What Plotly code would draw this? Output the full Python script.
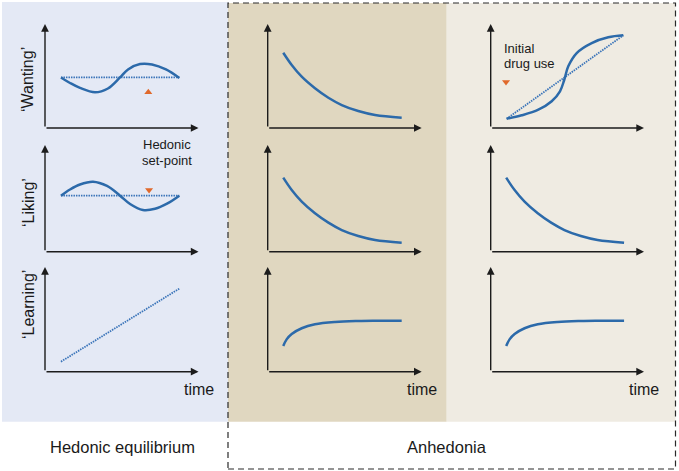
import plotly.graph_objects as go

W, H = 679, 471
FONT = "Liberation Sans, Arial, Helvetica, sans-serif"

# ---------------- text ----------------
row_labels = ["‘Wanting’", "‘Liking’", "‘Learning’"]
group_labels = ["Hedonic equilibrium", "Anhedonia"]
time_label = "time"
setpoint_lines = ["Hedonic", "set-point"]
drug_lines = ["Initial", "drug use"]

# ---------------- data (time 0-10, level 0-10) ----------------
want_t = [1.04, 1.63, 2.28, 3.26, 4.10, 4.89, 5.41, 6.19, 6.97, 7.88, 8.75]
want_v = [4.86, 4.33, 3.85, 3.43, 3.80, 4.86, 5.63, 6.15, 6.11, 5.63, 4.81]
want_base_t = [1.04, 8.75]
want_base_v = [4.86, 4.86]
want_mark_t = [6.73]
want_mark_v = [3.43]

like_t = [1.04, 1.63, 2.28, 3.13, 4.04, 4.89, 5.54, 6.38, 7.17, 7.95, 8.75]
like_v = [5.25, 5.83, 6.30, 6.56, 6.16, 5.25, 4.47, 3.91, 4.02, 4.50, 5.25]
like_base_t = [1.04, 8.75]
like_base_v = [5.25, 5.25]
like_mark_t = [6.78]
like_mark_v = [5.78]

learn_t = [1.04, 8.79]
learn_v = [0.96, 7.97]

decay_t = [1.01, 1.56, 2.21, 3.07, 3.94, 4.81, 5.88, 6.97, 8.70]
decay_want_v = [7.24, 6.06, 4.93, 3.82, 2.91, 2.21, 1.63, 1.25, 0.99]
decay_like_v = [6.94, 5.78, 4.69, 3.60, 2.72, 2.03, 1.47, 1.10, 0.84]

rise_t = [1.01, 1.23, 1.56, 2.21, 3.07, 4.37, 5.88, 6.97, 8.70]
rise_v = [2.45, 3.09, 3.60, 4.15, 4.53, 4.75, 4.84, 4.86, 4.86]

s_t = [1.04, 2.02, 3.11, 3.98, 4.52, 4.80, 5.06, 5.61, 6.59, 7.67, 8.65]
s_v = [0.89, 1.22, 1.76, 2.57, 3.53, 4.64, 5.93, 7.21, 8.17, 8.72, 8.91]
s_line_t = [1.04, 8.65]
s_line_v = [0.89, 8.91]
drug_mark_t = [1.0]
drug_mark_v = [4.42]

# ---------------- styles ----------------
BLUE = "#2c6aaa"
BLUE_DOT = "#3a74b9"
ORANGE = "#e0692b"
AXIS = "#1c1c1c"
BG_LEFT = "#e4e9f5"
BG_MID = "#e0d7c0"
BG_RIGHT = "#efebe2"

col_px = [(45, 198.5), (267.7, 421.7), (490.7, 644)]
row_px = [(24, 128), (145, 251.7), (267, 371.7)]


def px(x):
    return x / W


def py(y):
    return 1 - y / H


def ids(r, c):
    n = r * 3 + c + 1
    return ("x" if n == 1 else f"x{n}"), ("y" if n == 1 else f"y{n}")


fig = go.Figure()
layout_axes = {}
annotations = []
for r in range(3):
    for c in range(3):
        xa, ya = ids(r, c)
        xname = "xaxis" if xa == "x" else "xaxis" + xa[1:]
        yname = "yaxis" if ya == "y" else "yaxis" + ya[1:]
        layout_axes[xname] = dict(domain=[px(col_px[c][0]), px(col_px[c][1])],
                                  range=[0, 10], visible=False, fixedrange=True,
                                  anchor=ya)
        layout_axes[yname] = dict(domain=[py(row_px[r][1]), py(row_px[r][0])],
                                  range=[0, 10], visible=False, fixedrange=True,
                                  anchor=xa)
        # axis arrows
        for (hx, hy) in [(10, 0), (0, 10)]:
            annotations.append(dict(
                x=hx, y=hy, ax=0, ay=0, xref=xa, yref=ya, axref=xa, ayref=ya,
                text="", showarrow=True, arrowhead=2, arrowsize=1.1,
                arrowwidth=1.4, arrowcolor=AXIS, standoff=0, startstandoff=0))


def solid(t, v, r, c):
    xa, ya = ids(r, c)
    fig.add_trace(go.Scatter(x=t, y=v, xaxis=xa, yaxis=ya, mode="lines",
                             line=dict(color=BLUE, width=2.5, shape="spline"),
                             hoverinfo="skip", showlegend=False))


def dotted(t, v, r, c):
    xa, ya = ids(r, c)
    fig.add_trace(go.Scatter(x=t, y=v, xaxis=xa, yaxis=ya, mode="lines",
                             line=dict(color=BLUE_DOT, width=1.8, dash="1.5px,1px"),
                             hoverinfo="skip", showlegend=False))


def marker(t, v, r, c, sym):
    xa, ya = ids(r, c)
    fig.add_trace(go.Scatter(x=t, y=v, xaxis=xa, yaxis=ya, mode="markers",
                             marker=dict(color=ORANGE, size=7, symbol=sym),
                             hoverinfo="skip", showlegend=False))


# left column: hedonic equilibrium
dotted(want_base_t, want_base_v, 0, 0)
solid(want_t, want_v, 0, 0)
marker(want_mark_t, want_mark_v, 0, 0, "triangle-up")
dotted(like_base_t, like_base_v, 1, 0)
solid(like_t, like_v, 1, 0)
marker(like_mark_t, like_mark_v, 1, 0, "triangle-down")
dotted(learn_t, learn_v, 2, 0)

# middle column
solid(decay_t, decay_want_v, 0, 1)
solid(decay_t, decay_like_v, 1, 1)
solid(rise_t, rise_v, 2, 1)

# right column
dotted(s_line_t, s_line_v, 0, 2)
solid(s_t, s_v, 0, 2)
marker(drug_mark_t, drug_mark_v, 0, 2, "triangle-down")
solid(decay_t, decay_like_v, 1, 2)
solid(rise_t, rise_v, 2, 2)

# ---------------- text annotations ----------------
row_label_y = [80, 203, 305]
for lab, yy in zip(row_labels, row_label_y):
    annotations.append(dict(x=px(28), y=py(yy), xref="paper", yref="paper",
                            text=lab, showarrow=False, textangle=-90,
                            xanchor="center", yanchor="middle",
                            font=dict(family=FONT, size=16, color="#1a1a1a")))

for c in range(3):
    annotations.append(dict(x=px(col_px[c][1]), y=py(389), xref="paper", yref="paper",
                            text=time_label, showarrow=False,
                            xanchor="center", yanchor="middle",
                            font=dict(family=FONT, size=16, color="#1a1a1a")))

for txt, yy in zip(setpoint_lines, [145, 161]):
    annotations.append(dict(x=px(167), y=py(yy), xref="paper", yref="paper",
                            text=txt, showarrow=False,
                            xanchor="center", yanchor="middle",
                            font=dict(family=FONT, size=13, color="#1a1a1a")))

for txt, yy in zip(drug_lines, [49, 64]):
    annotations.append(dict(x=px(501.5), y=py(yy), xref="paper", yref="paper",
                            text=txt, showarrow=False,
                            xanchor="left", yanchor="middle",
                            font=dict(family=FONT, size=13, color="#1a1a1a")))

for txt, xx in zip(group_labels, [122, 447]):
    annotations.append(dict(x=px(xx), y=py(447), xref="paper", yref="paper",
                            text=txt, showarrow=False,
                            xanchor="center", yanchor="middle",
                            font=dict(family=FONT, size=16.5, color="#1a1a1a")))

# ---------------- background panels ----------------
shapes = [
    dict(type="rect", xref="paper", yref="paper", x0=px(2), x1=px(228),
         y0=py(421.7), y1=py(2), fillcolor=BG_LEFT, line=dict(width=0), layer="below"),
    dict(type="rect", xref="paper", yref="paper", x0=px(228), x1=px(446.7),
         y0=py(421.7), y1=py(3), fillcolor=BG_MID, line=dict(width=0), layer="below"),
    dict(type="rect", xref="paper", yref="paper", x0=px(446.7), x1=px(675.5),
         y0=py(421.7), y1=py(3), fillcolor=BG_RIGHT, line=dict(width=0), layer="below"),
    dict(type="rect", xref="paper", yref="paper", x0=px(228), x1=px(675.5),
         y0=py(469), y1=py(3), fillcolor="rgba(0,0,0,0)",
         line=dict(color="#2a2a2a", width=1.2, dash="6px,4px"), layer="above"),
]

fig.update_layout(
    width=W, height=H, margin=dict(l=0, r=0, t=0, b=0),
    paper_bgcolor="white", plot_bgcolor="rgba(0,0,0,0)",
    showlegend=False, shapes=shapes, annotations=annotations,
    font=dict(family=FONT),
    **layout_axes,
)

fig.write_html(
    "out.html",
    config={"displayModeBar": False},
    post_script="document.body.style.margin='0px';document.body.style.overflow='hidden';",
)
